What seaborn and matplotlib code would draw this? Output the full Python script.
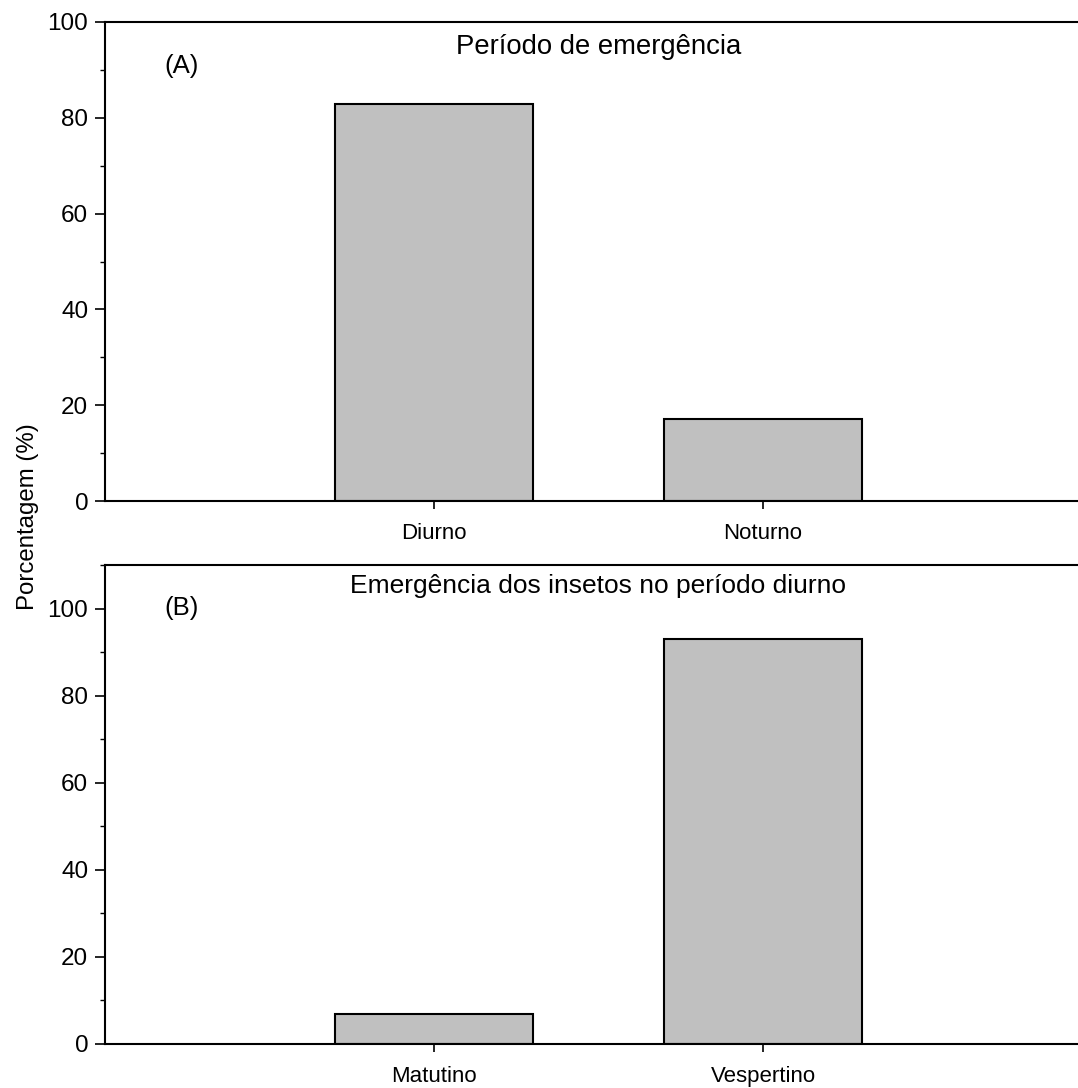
import matplotlib
matplotlib.use("Agg")
import matplotlib.pyplot as plt
import seaborn as sns
import pandas as pd
from matplotlib.ticker import MultipleLocator

# Data
cats_a = ["Diurno", "Noturno"]
vals_a = [82.8, 17.2]
cats_b = ["Matutino", "Vespertino"]
vals_b = [6.9, 93.1]
title_a = "Período de emergência"
title_b = "Emergência dos insetos no período diurno"
ylabel = "Porcentagem (%)"

sns.set_theme(style="ticks")
plt.rcParams['font.family'] = ['Liberation Sans', 'DejaVu Sans']

W, H = 1078, 1088
fig = plt.figure(figsize=(W / 100, H / 100), dpi=100)

def px_axes(left, top, right, bottom):
    return fig.add_axes([left / W, 1 - bottom / H, (right - left) / W, (bottom - top) / H])

ax1 = px_axes(105, 22, 1078, 501)
ax2 = px_axes(105, 565, 1078, 1044)

def draw(ax, cats, vals, ymax, title, label, ty, ly, tsize):
    df = pd.DataFrame({"cat": cats, "val": vals})
    sns.barplot(data=df, x="cat", y="val", ax=ax, color="#c0c0c0", saturation=1,
                width=0.6, edgecolor="black", linewidth=1.5)
    ax.set_xlim(-1, -1 + 973 / 329)
    ax.set_ylim(0, ymax)
    ax.yaxis.set_major_locator(MultipleLocator(20))
    ax.yaxis.set_minor_locator(MultipleLocator(10))
    ax.tick_params(axis="y", which="major", length=7, width=1.2, labelsize=17.5, pad=5, color="black", labelcolor="black")
    ax.tick_params(axis="y", which="minor", length=3.5, width=1.0, color="black")
    ax.tick_params(axis="x", which="major", length=6, width=1.2, labelsize=16, pad=10, color="black", labelcolor="black")
    ax.set_xlabel("")
    ax.set_ylabel("")
    for s in ["left", "bottom", "top"]:
        ax.spines[s].set_linewidth(1.5)
        ax.spines[s].set_color("black")
    ax.spines["right"].set_visible(False)
    ax.text(0.507, ty, title, transform=ax.transAxes, ha="center", va="center", fontsize=tsize, color="black")
    ax.text(0.079, ly, label, transform=ax.transAxes, ha="center", va="center", fontsize=18.5, color="black")

draw(ax1, cats_a, vals_a, 100, title_a, "(A)", 0.948, 0.908, 19.8)
draw(ax2, cats_b, vals_b, 110, title_b, "(B)", 0.956, 0.910, 19)

fig.text(28 / W, 1 - 517 / H, ylabel, rotation=90, ha="center", va="center", fontsize=17.3, color="black")

fig.savefig("out.png", dpi=100, facecolor="white")
